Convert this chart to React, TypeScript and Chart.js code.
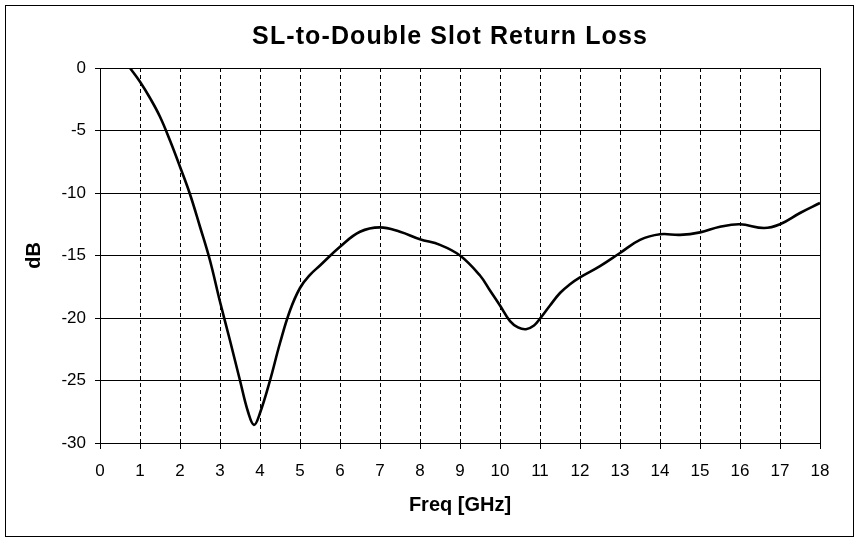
import { useEffect, useRef } from "react";
import { Chart, registerables } from "chart.js";

Chart.register(...registerables);

const TITLE = "SL-to-Double Slot Return Loss";
const X_TITLE = "Freq [GHz]";
const Y_TITLE = "dB";

const freqGHz = [
  0.75, 1.0, 1.25, 1.5, 1.75, 2.0, 2.25, 2.5, 2.75, 3.0, 3.25, 3.5, 3.7, 3.85, 4.0,
  4.25, 4.5, 4.75, 5.0, 5.25, 5.5, 6.0, 6.5, 7.0, 7.5, 8.0, 8.5, 9.0, 9.5, 9.75,
  10.0, 10.25, 10.45, 10.65, 10.85, 11.0, 11.25, 11.5, 11.75, 12.0, 12.5, 13.0, 13.5,
  14.0, 14.5, 15.0, 15.5, 16.0, 16.6, 17.0, 17.5, 18.0,
];
const returnLossDb = [
  0, -1.1, -2.4, -3.9, -5.8, -7.9, -10.1, -12.7, -15.4, -18.7, -21.8, -25.0, -27.5, -28.55, -27.6,
  -25.0, -22.0, -19.4, -17.6, -16.55, -15.8, -14.3, -13.1, -12.75, -13.1, -13.7, -14.15, -15.0, -16.6, -17.8,
  -19.0, -20.25, -20.75, -20.9, -20.6, -20.05, -19.0, -18.0, -17.3, -16.75, -15.85, -14.8, -13.75,
  -13.3, -13.35, -13.15, -12.7, -12.5, -12.8, -12.5, -11.6, -10.8,
];

const xRange = [0, 18];
const xStep = 1;
const yRange = [-30, 0];
const yStep = 5;

const FONT = "'Liberation Sans', Arial, sans-serif";

// title is drawn by hand so it can sit a bit left of the plot centre like the original
const titlePlugin = {
  id: "slotTitle",
  afterDraw(chart: any) {
    const { ctx, chartArea } = chart;
    ctx.save();
    ctx.font = `bold 25px ${FONT}`;
    ctx.fillStyle = "#000";
    ctx.textAlign = "center";
    ctx.textBaseline = "middle";
    ctx.letterSpacing = "1.1px";
    ctx.fillText(TITLE, (chartArea.left + chartArea.right) / 2 - 10, chartArea.top - 31);
    ctx.restore();
  },
};

// solid right edge of the plot (the x grid is dashed)
const frameRight = {
  id: "frameRight",
  beforeDatasetsDraw(chart: any) {
    const { ctx, chartArea } = chart;
    const x = Math.round(chartArea.right - 0.5) + 0.5;
    ctx.save();
    ctx.strokeStyle = "#000";
    ctx.lineWidth = 1;
    ctx.beginPath();
    ctx.moveTo(x, chartArea.top);
    ctx.lineTo(x, chartArea.bottom);
    ctx.stroke();
    ctx.restore();
  },
};

export default function App() {
  const canvasRef = useRef<HTMLCanvasElement>(null);

  useEffect(() => {
    document.body.style.margin = "0";
    if (!canvasRef.current) return;

    const chart = new Chart(canvasRef.current, {
      type: "line",
      data: {
        datasets: [
          {
            label: "Return loss",
            data: freqGHz.map((f, i) => ({ x: f, y: returnLossDb[i] })),
            borderColor: "#000",
            borderWidth: 2.6,
            pointRadius: 0,
            tension: 0.4,
            fill: false,
          },
        ],
      },
      options: {
        responsive: false,
        animation: false,
        devicePixelRatio: 1,
        layout: { padding: { top: 68, right: 40, bottom: 0, left: 0 } },
        plugins: {
          legend: { display: false },
          title: { display: false },
          tooltip: { enabled: false },
        },
        scales: {
          x: {
            type: "linear",
            min: xRange[0],
            max: xRange[1],
            afterFit: (scale: any) => {
              scale.height = 98;
            },
            ticks: {
              stepSize: xStep,
              color: "#000",
              padding: 12,
              maxRotation: 0,
              autoSkip: false,
              font: { family: FONT, size: 17 },
            },
            grid: {
              color: "#000",
              lineWidth: 1,
              tickLength: 6,
              tickBorderDash: [],
            },
            border: { display: true, color: "#000", width: 1, dash: [4, 3] },
            title: {
              display: true,
              text: X_TITLE,
              color: "#000",
              padding: { top: 0, bottom: 24 },
              font: { family: FONT, size: 20, weight: "bold" },
            },
          },
          y: {
            min: yRange[0],
            max: yRange[1],
            afterFit: (scale: any) => {
              scale.width = 100;
            },
            ticks: {
              stepSize: yStep,
              color: "#000",
              padding: 9,
              font: { family: FONT, size: 17 },
            },
            grid: {
              color: "#000",
              lineWidth: 1,
              tickLength: 5,
            },
            border: { display: true, color: "#000", width: 1 },
            title: {
              display: true,
              text: Y_TITLE,
              color: "#000",
              padding: { top: 22, bottom: 0 },
              font: { family: FONT, size: 20, weight: "bold" },
            },
          },
        },
      },
      plugins: [titlePlugin, frameRight],
    } as any);

    return () => chart.destroy();
  }, []);

  return (
    <div style={{ position: "relative", width: 860, height: 541, background: "#fff" }}>
      <div
        style={{
          position: "absolute",
          left: 5,
          top: 5,
          width: 849,
          height: 532,
          boxSizing: "border-box",
          border: "1px solid #000",
        }}
      />
      <canvas
        ref={canvasRef}
        width={860}
        height={541}
        style={{ position: "absolute", left: 0, top: 0, width: 860, height: 541 }}
      />
    </div>
  );
}
